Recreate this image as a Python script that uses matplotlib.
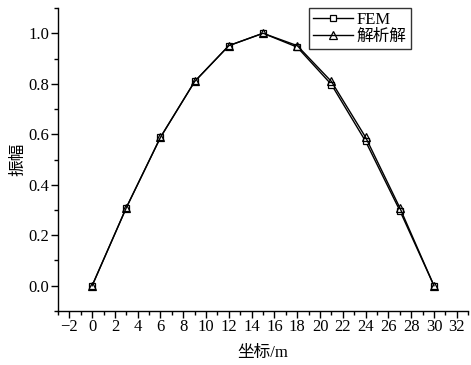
import matplotlib
matplotlib.use('Agg')
import matplotlib.pyplot as plt
from matplotlib.ticker import MultipleLocator

plt.rcParams['font.family'] = ['Liberation Serif', 'Noto Sans CJK SC']

# 坐标 (m)
x = [0, 3, 6, 9, 12, 15, 18, 21, 24, 27, 30]
# FEM 结果
fem = [0.0, 0.309, 0.588, 0.809, 0.951, 1.0, 0.945, 0.797, 0.572, 0.298, 0.0]
# 解析解
analytic = [0.0, 0.309, 0.588, 0.809, 0.951, 1.0, 0.951, 0.809, 0.588, 0.309, 0.0]

xticks = list(range(-2, 33, 2))
yticks = [0.0, 0.2, 0.4, 0.6, 0.8, 1.0]

fig = plt.figure(figsize=(4.71, 3.65), dpi=100)
ax = fig.add_axes([0.123, 0.148, 0.871, 0.830])

ax.plot(x, fem, color='black', lw=1.0, marker='s', ms=5,
        mfc='white', mec='black', mew=0.9, label='FEM')
ax.plot(x, analytic, color='black', lw=1.0, marker='^', ms=6,
        mfc='none', mec='black', mew=0.9, label='解析解')

ax.set_xlim(-3, 33)
ax.set_ylim(-0.1, 1.1)
ax.xaxis.set_minor_locator(MultipleLocator(1))
ax.yaxis.set_minor_locator(MultipleLocator(0.1))
ax.set_xticks(xticks)
ax.set_xticklabels([('\u2212' + str(-v)) if v < 0 else str(v) for v in xticks])
ax.set_yticks(yticks)
ax.set_yticklabels(['%.1f' % v for v in yticks])

for s in ['top', 'right']:
    ax.spines[s].set_visible(False)
for s in ['left', 'bottom']:
    ax.spines[s].set_linewidth(1.0)

ax.tick_params(which='major', direction='out', length=5, width=1.0,
               labelsize=12, pad=1)
ax.tick_params(which='minor', direction='out', length=3, width=1.0)

ax.set_xlabel('坐标/m', fontsize=12, labelpad=7)
ax.set_ylabel('振幅', fontsize=12, labelpad=2)

leg = ax.legend(loc='upper left', bbox_to_anchor=(0.612, 1.0), fontsize=12,
                frameon=True, fancybox=False, edgecolor='black',
                handlelength=2.4, handletextpad=0.2, borderpad=0.25,
                labelspacing=0.05, borderaxespad=0.0)
leg.get_frame().set_linewidth(1.0)

fig.savefig('out.png', dpi=100)
